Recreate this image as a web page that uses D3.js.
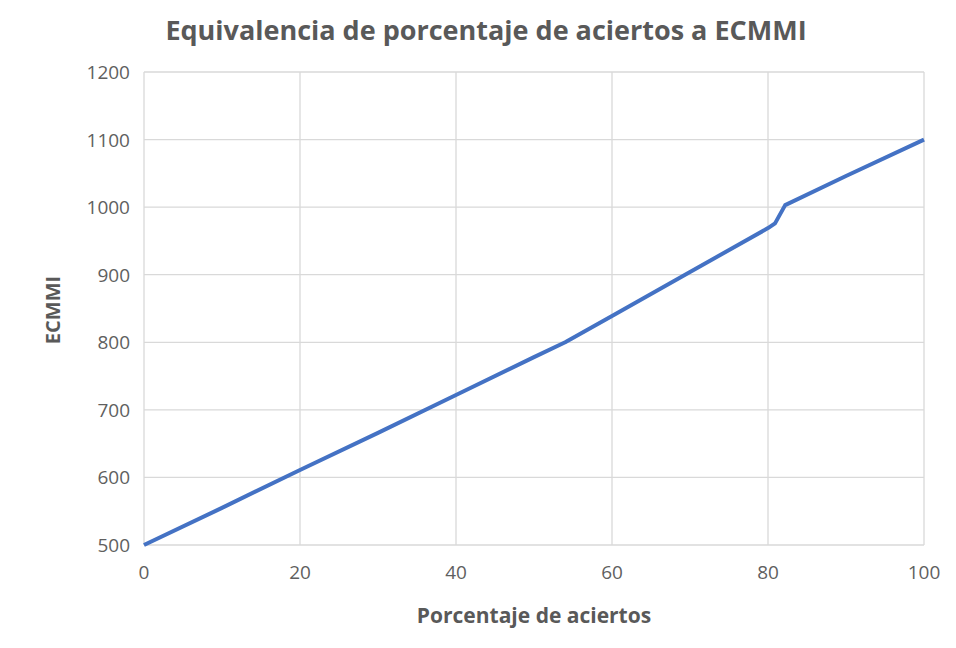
<!DOCTYPE html>
<html>
<head>
<meta charset="utf-8">
<script src="https://cdn.jsdelivr.net/npm/d3@7"></script>
<style>
  body { margin: 0; background: #fff; }
  text { font-family: "Open Sans", "Noto Sans", sans-serif; }
</style>
</head>
<body>
<svg id="chart" width="956" height="648"></svg>
<script>
// porcentaje de aciertos vs ECMMI
const porcentaje = [0, 10, 20, 30, 40, 50, 54, 60, 70, 80, 80.9, 82.2, 90, 100];
const ecmmi = [500, 555, 611, 666, 722, 778, 800, 839, 904, 969, 976, 1003, 1046, 1100];
const xTicks = [0, 20, 40, 60, 80, 100];
const yTicks = [500, 600, 700, 800, 900, 1000, 1100, 1200];

const svg = d3.select("#chart");
const margin = {left: 144, right: 32, top: 72, bottom: 103};
const width = 956 - margin.left - margin.right;
const height = 648 - margin.top - margin.bottom;

const x = d3.scaleLinear().domain([0, 100]).range([0, width]);
const y = d3.scaleLinear().domain([500, 1200]).range([height, 0]);

const g = svg.append("g").attr("transform", `translate(${margin.left},${margin.top})`);

// grid
g.selectAll(".vgrid").data(xTicks).enter().append("line")
  .attr("x1", d => x(d)).attr("x2", d => x(d))
  .attr("y1", 0).attr("y2", height)
  .style("stroke", "#d9d9d9").style("stroke-width", 1.3);
g.selectAll(".hgrid").data(yTicks).enter().append("line")
  .attr("x1", 0).attr("x2", width)
  .attr("y1", d => y(d)).attr("y2", d => y(d))
  .style("stroke", "#d9d9d9").style("stroke-width", 1.3);

// tick labels
g.selectAll(".xl").data(xTicks).enter().append("text")
  .attr("x", d => x(d)).attr("y", height + 34)
  .attr("text-anchor", "middle")
  .style("font-size", "19px").style("fill", "#5f5f5f")
  .text(d => d);
g.selectAll(".yl").data(yTicks).enter().append("text")
  .attr("x", -14).attr("y", d => y(d) + 7)
  .attr("text-anchor", "end")
  .style("font-size", "19px").style("fill", "#5f5f5f")
  .text(d => d);

// line
const pts = porcentaje.map((p, i) => [p, ecmmi[i]]);
g.append("path")
  .datum(pts)
  .attr("d", d3.line().x(d => x(d[0])).y(d => y(d[1])))
  .style("fill", "none")
  .style("stroke", "#4472c4")
  .style("stroke-width", 4)
  .style("stroke-linejoin", "round");

// titles
svg.append("text")
  .attr("x", 486).attr("y", 40)
  .attr("text-anchor", "middle")
  .style("font-size", "27px").style("font-weight", "bold").style("fill", "#595959")
  .text("Equivalencia de porcentaje de aciertos a ECMMI");

svg.append("text")
  .attr("x", 534).attr("y", 623)
  .attr("text-anchor", "middle")
  .style("font-size", "21px").style("font-weight", "bold").style("fill", "#595959")
  .text("Porcentaje de aciertos");

svg.append("text")
  .attr("transform", "translate(60,310) rotate(-90)")
  .attr("text-anchor", "middle")
  .style("font-size", "20px").style("font-weight", "bold").style("fill", "#595959")
  .text("ECMMI");
</script>
</body>
</html>
